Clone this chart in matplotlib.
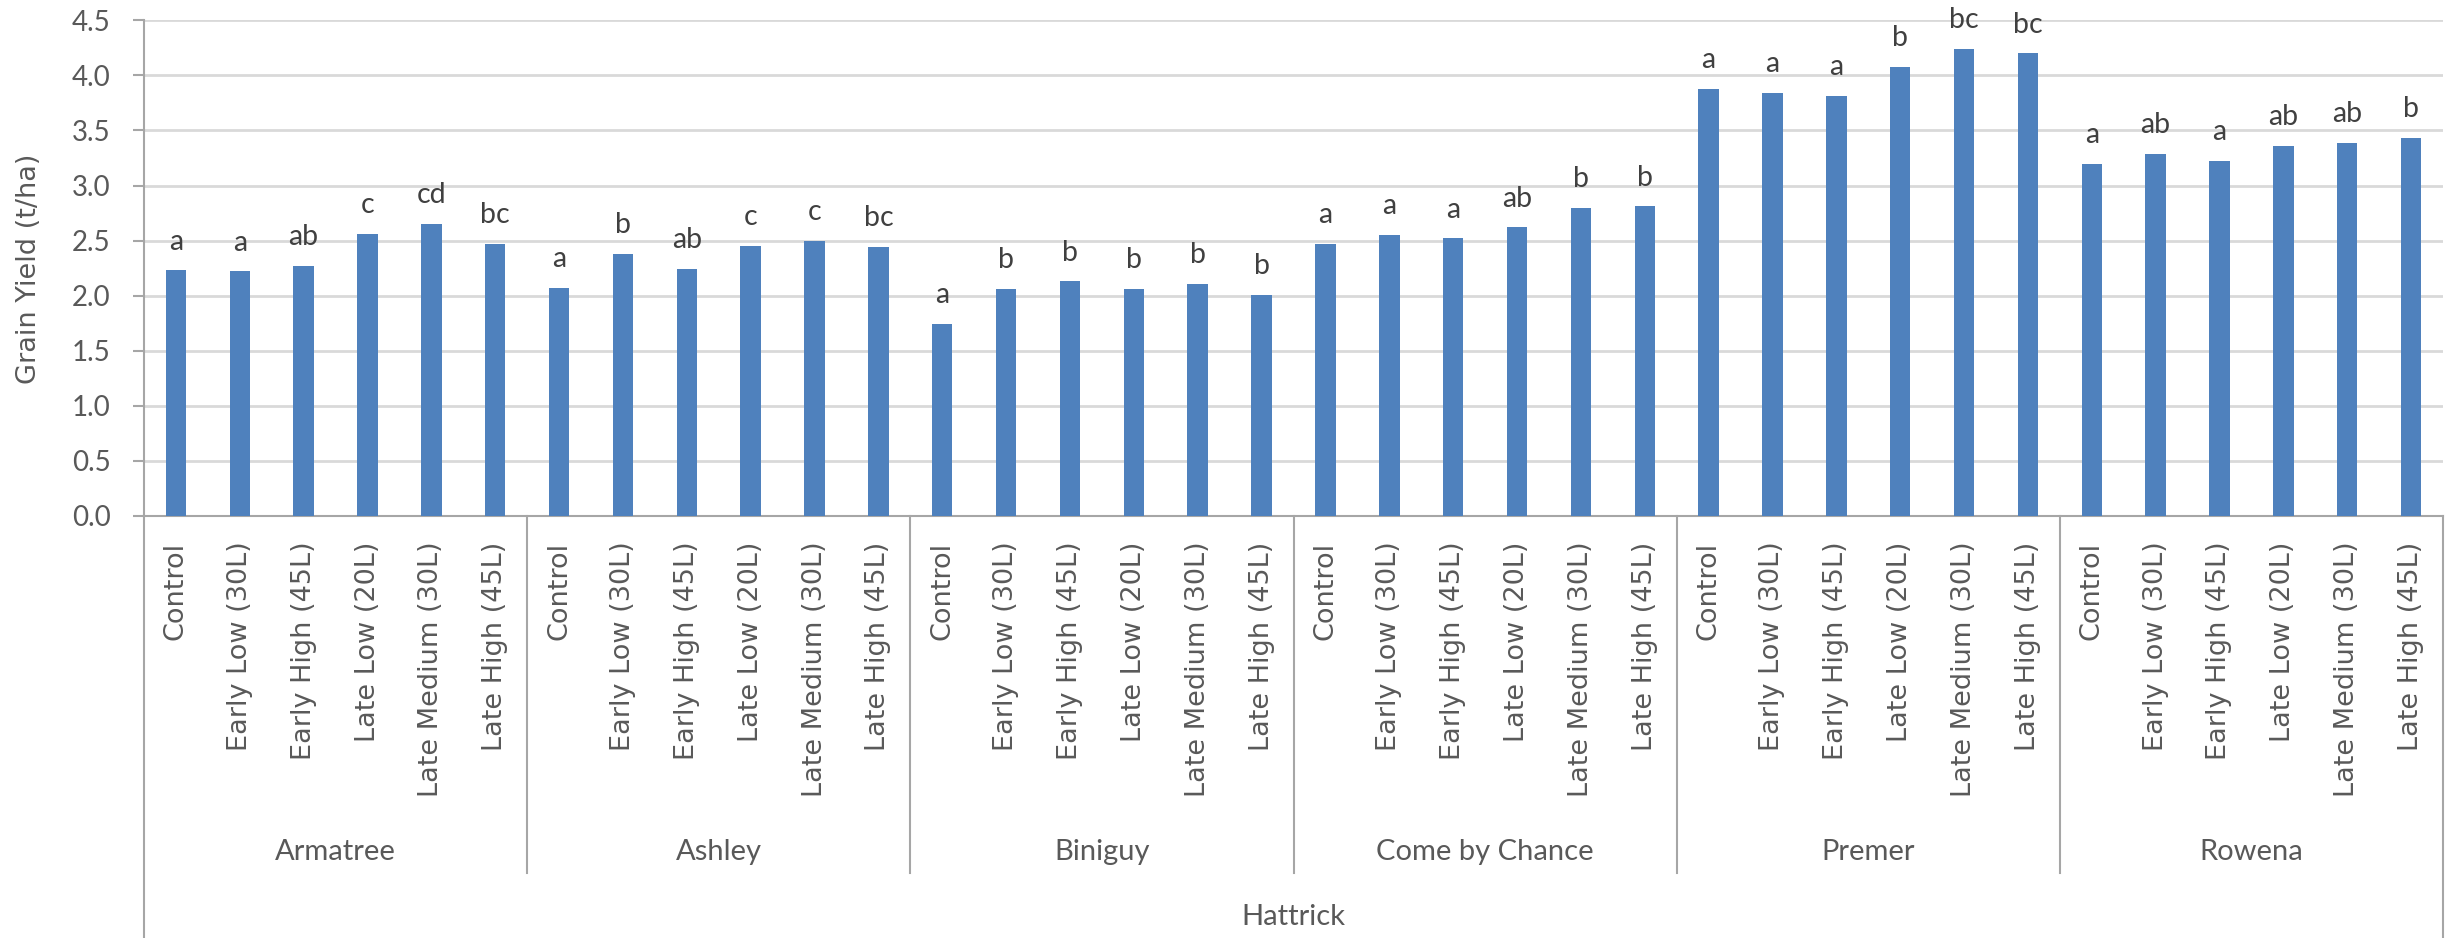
import numpy as np
import matplotlib.pyplot as plt
import matplotlib.transforms as mtransforms


#data
sites = ["Armatree", "Ashley", "Biniguy", "Come by Chance", "Premer", "Rowena"]
treatments = ["Control", "Early Low (30L)", "Early High (45L)", "Late Low (20L)", "Late Medium (30L)", "Late High (45L)"]
variety = "Hattrick"

armatree = [2.23, 2.22, 2.27, 2.56, 2.65, 2.47]
ashley = [2.07, 2.38, 2.24, 2.45, 2.50, 2.44]
biniguy = [1.74, 2.06, 2.13, 2.06, 2.11, 2.01]
come_by_chance = [2.47, 2.55, 2.52, 2.62, 2.80, 2.81]
premer = [3.88, 3.84, 3.81, 4.08, 4.24, 4.20]
rowena = [3.20, 3.29, 3.22, 3.36, 3.39, 3.43]

letters_armatree = ["a", "a", "ab", "c", "cd", "bc"]
letters_ashley = ["a", "b", "ab", "c", "c", "bc"]
letters_biniguy = ["a", "b", "b", "b", "b", "b"]
letters_cbc = ["a", "a", "a", "ab", "b", "b"]
letters_premer = ["a", "a", "a", "b", "bc", "bc"]
letters_rowena = ["a", "ab", "a", "ab", "ab", "b"]

yields = armatree + ashley + biniguy + come_by_chance + premer + rowena
letters = letters_armatree + letters_ashley + letters_biniguy + letters_cbc + letters_premer + letters_rowena
labels = treatments * len(sites)


#style
bar_color = "#4F81BD"
text_color = "#595959"
grid_color = "#D9D9D9"
axis_color = "#A6A6A6"
calibri_like = "Lato"
verdana_like = "DejaVu Sans"

fig = plt.figure(figsize=(24.45, 9.38), dpi=100)
ax = fig.add_axes([144/2445, 1 - 516/938, 2299/2445, 495.7/938])

x = np.arange(len(yields))
ax.bar(x, yields, width=0.32, color=bar_color, zorder=3)

#significance letters above bars
for xi, yi, lab in zip(x, yields, letters):
    ax.annotate(lab, (xi, yi), xytext=(0, 15), textcoords="offset points",
                ha="center", va="baseline", fontsize=20.5, family=calibri_like, color="#404040")

ax.set_xlim(-0.5, len(yields) - 0.5)
ax.set_ylim(0, 4.5)
ax.set_yticks(np.arange(0, 4.51, 0.5))
ax.set_yticklabels([f"{v:.1f}" for v in np.arange(0, 4.51, 0.5)], family=calibri_like, fontsize=20, color=text_color)
ax.yaxis.grid(True, color=grid_color, linewidth=2, zorder=0)
ax.tick_params(axis="y", length=8, width=1.5, color=axis_color, pad=16)

ax.set_xticks(x)
ax.set_xticklabels(labels, rotation=90, family=verdana_like, fontsize=19.5, color=text_color)
ax.tick_params(axis="x", length=0, pad=18.5)

for s in ["top", "right"]:
    ax.spines[s].set_visible(False)
ax.spines["left"].set_color(axis_color)
ax.spines["left"].set_linewidth(1.5)
ax.spines["bottom"].set_color(axis_color)
ax.spines["bottom"].set_linewidth(1.5)

#multi level category axis: separators and group names
trans = mtransforms.blended_transform_factory(ax.transData, ax.transAxes)
n = len(treatments)
for g in range(1, len(sites)):
    ax.plot([g*n - 0.5, g*n - 0.5], [0, -0.72], transform=trans, color=axis_color, lw=1.5, clip_on=False)
for xe in [-0.5, len(yields) - 0.5]:
    ax.plot([xe, xe], [0, -0.86], transform=trans, color=axis_color, lw=1.5, clip_on=False)

for g, site in enumerate(sites):
    ax.text(g*n + (n - 1)/2, -0.678, site, transform=trans, ha="center", va="center",
            family=calibri_like, fontsize=21, color=text_color)
ax.text(0.5, -0.809, variety, transform=ax.transAxes, ha="center", va="center",
        family=calibri_like, fontsize=21, color=text_color)

fig.text(29/2445, 1 - 269/938, "Grain Yield (t/ha)", rotation=90, ha="center", va="center",
         family=verdana_like, fontsize=19.5, color=text_color)

plt.savefig("out.png", dpi=100)
